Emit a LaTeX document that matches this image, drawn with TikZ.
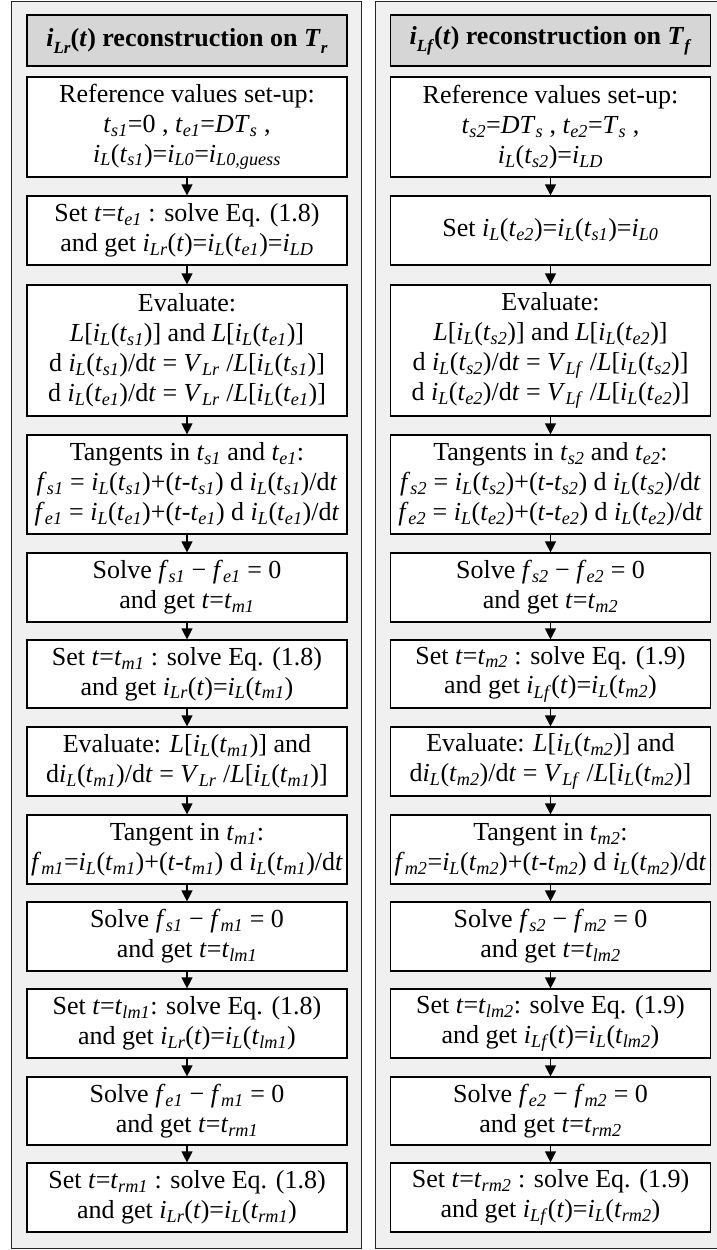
\documentclass[tikz,border=0pt]{standalone}
\usepackage{fontspec}
\setmainfont{Liberation Serif}
\usetikzlibrary{arrows.meta}
\definecolor{panelgray}{HTML}{F0F0F0}
\definecolor{titlegray}{HTML}{D6D6D6}
\newcommand{\sbs}[1]{\textsubscript{\textit{#1}}}
\newcommand{\tsbs}[1]{\raisebox{-7pt}{\fontsize{17}{17}\selectfont\textit{#1}}}
\newcommand{\vi}[2]{\textit{#1}\sbs{#2}}
\newcommand{\iL}{\vi{i}{L}}
\newcommand{\Ts}[1]{\vi{t}{#1}}
\newcommand{\It}{\textit{t}}
\newcommand{\Lt}{\textit{L}}
\begin{document}
\begin{tikzpicture}[x=1pt,y=-1pt,
  box/.style={draw=black, fill=white, line width=1.2pt, minimum width=320pt, inner sep=0pt, align=center, font=\fontsize{26}{29.9}\selectfont},
  titlebox/.style={box, fill=titlegray, font=\fontsize{26}{30}\selectfont\bfseries},
  flow/.style={line width=1.2pt, -{Triangle[length=11pt,width=11pt]}},
  panel/.style={fill=panelgray, draw=black!85, line width=1pt}]
\useasboundingbox (0,0) rectangle (717,1250);
% panels
\path[panel] (11.5,1.5) rectangle (361,1248.5);
\fill[panelgray] (375.5,1.5) rectangle (717,1248.5);
\draw[black!85, line width=1pt] (717,1.5) -- (375.5,1.5) -- (375.5,1248.5) -- (717,1248.5);
% left column
\node[titlebox, minimum height=51pt] (L0) at (187,40.5) {\textit{i}\tsbs{Lr}(\textit{t}) reconstruction on \textit{T}\tsbs{r}};
\node[box, minimum height=100pt] (L1) at (187,127) {Reference values set-up:\\ \Ts{s1}=0 , \Ts{e1}=\textit{DT}\sbs{s} ,\\ \iL(\Ts{s1})=\vi{i}{L0}=\vi{i}{L0,guess}};
\node[box, minimum height=69pt] (L2) at (187,230.5) {Set \It=\Ts{e1} : solve Eq. (1.8)\\ and get \vi{i}{Lr}(\It)=\iL(\Ts{e1})=\vi{i}{LD}};
\node[box, minimum height=131pt] (L3) at (187,350.5) {Evaluate:\\ \Lt[\iL(\Ts{s1})] and \Lt[\iL(\Ts{e1})]\\ d \iL(\Ts{s1})/d\It{} = \vi{V}{Lr} /\Lt[\iL(\Ts{s1})]\\ d \iL(\Ts{e1})/d\It{} = \vi{V}{Lr} /\Lt[\iL(\Ts{e1})]};
\node[box, minimum height=99pt] (L4) at (187,484.5) {Tangents in \Ts{s1} and \Ts{e1}:\\ \vi{f}{s1} = \iL(\Ts{s1})+(\It-\Ts{s1}) d \iL(\Ts{s1})/d\It\\ \vi{f}{e1} = \iL(\Ts{e1})+(\It-\Ts{e1}) d \iL(\Ts{e1})/d\It};
\node[box, minimum height=69pt] (L5) at (187,587.5) {Solve \vi{f}{s1} − \vi{f}{e1} = 0\\ and get \It=\Ts{m1}};
\node[box, minimum height=68pt] (L6) at (187,674) {Set \It=\Ts{m1} : solve Eq. (1.8)\\ and get \vi{i}{Lr}(\It)=\iL(\Ts{m1})};
\node[box, minimum height=69pt] (L7) at (187,761.5) {Evaluate: \Lt[\iL(\Ts{m1})] and\\ d\iL(\Ts{m1})/d\It{} = \vi{V}{Lr} /\Lt[\iL(\Ts{m1})]};
\node[box, minimum height=69pt] (L8) at (187,849.5) {Tangent in \Ts{m1}:\\ \vi{f}{m1}=\iL(\Ts{m1})+(\It-\Ts{m1}) d \iL(\Ts{m1})/d\It};
\node[box, minimum height=69pt] (L9) at (187,936.5) {Solve \vi{f}{s1} − \vi{f}{m1} = 0\\ and get \It=\Ts{lm1}};
\node[box, minimum height=69pt] (L10) at (187,1023.5) {Set \It=\Ts{lm1}: solve Eq. (1.8)\\ and get \vi{i}{Lr}(\It)=\iL(\Ts{lm1})};
\node[box, minimum height=68pt] (L11) at (187,1111) {Solve \vi{f}{e1} − \vi{f}{m1} = 0\\ and get \It=\Ts{rm1}};
\node[box, minimum height=69pt] (L12) at (187,1197.5) {Set \It=\Ts{rm1} : solve Eq. (1.8)\\ and get \vi{i}{Lr}(\It)=\iL(\Ts{rm1})};
% right column
\node[titlebox, minimum height=51pt] (R0) at (550.5,40.5) {\textit{i}\tsbs{Lf}(\textit{t}) reconstruction on \textit{T}\tsbs{f}};
\node[box, minimum height=100pt] (R1) at (550.5,127) {Reference values set-up:\\ \Ts{s2}=\textit{DT}\sbs{s} , \Ts{e2}=\textit{T}\sbs{s} ,\\ \iL(\Ts{s2})=\vi{i}{LD}};
\node[box, minimum height=69pt] (R2) at (550.5,230.5) {Set \iL(\Ts{e2})=\iL(\Ts{s1})=\vi{i}{L0}};
\node[box, minimum height=131pt] (R3) at (550.5,350.5) {Evaluate:\\ \Lt[\iL(\Ts{s2})] and \Lt[\iL(\Ts{e2})]\\ d \iL(\Ts{s2})/d\It{} = \vi{V}{Lf} /\Lt[\iL(\Ts{s2})]\\ d \iL(\Ts{e2})/d\It{} = \vi{V}{Lf} /\Lt[\iL(\Ts{e2})]};
\node[box, minimum height=99pt] (R4) at (550.5,484.5) {Tangents in \Ts{s2} and \Ts{e2}:\\ \vi{f}{s2} = \iL(\Ts{s2})+(\It-\Ts{s2}) d \iL(\Ts{s2})/d\It\\ \vi{f}{e2} = \iL(\Ts{e2})+(\It-\Ts{e2}) d \iL(\Ts{e2})/d\It};
\node[box, minimum height=69pt] (R5) at (550.5,587.5) {Solve \vi{f}{s2} − \vi{f}{e2} = 0\\ and get \It=\Ts{m2}};
\node[box, minimum height=68pt] (R6) at (550.5,674) {Set \It=\Ts{m2} : solve Eq. (1.9)\\ and get \vi{i}{Lf}(\It)=\iL(\Ts{m2})};
\node[box, minimum height=69pt] (R7) at (550.5,761.5) {Evaluate: \Lt[\iL(\Ts{m2})] and\\ d\iL(\Ts{m2})/d\It{} = \vi{V}{Lf} /\Lt[\iL(\Ts{m2})]};
\node[box, minimum height=69pt] (R8) at (550.5,849.5) {Tangent in \Ts{m2}:\\ \vi{f}{m2}=\iL(\Ts{m2})+(\It-\Ts{m2}) d \iL(\Ts{m2})/d\It};
\node[box, minimum height=69pt] (R9) at (550.5,936.5) {Solve \vi{f}{s2} − \vi{f}{m2} = 0\\ and get \It=\Ts{lm2}};
\node[box, minimum height=69pt] (R10) at (550.5,1023.5) {Set \It=\Ts{lm2}: solve Eq. (1.9)\\ and get \vi{i}{Lf}(\It)=\iL(\Ts{lm2})};
\node[box, minimum height=68pt] (R11) at (550.5,1111) {Solve \vi{f}{e2} − \vi{f}{m2} = 0\\ and get \It=\Ts{rm2}};
\node[box, minimum height=69pt] (R12) at (550.5,1197.5) {Set \It=\Ts{rm2} : solve Eq. (1.9)\\ and get \vi{i}{Lf}(\It)=\iL(\Ts{rm2})};
% connectors
\foreach \a/\b in {1/2,2/3,3/4,4/5,5/6,6/7,7/8,8/9,9/10,10/11,11/12}{
  \draw[flow] (L\a.south) -- (L\b.north);
  \draw[flow] (R\a.south) -- (R\b.north);
}
\end{tikzpicture}
\end{document}
